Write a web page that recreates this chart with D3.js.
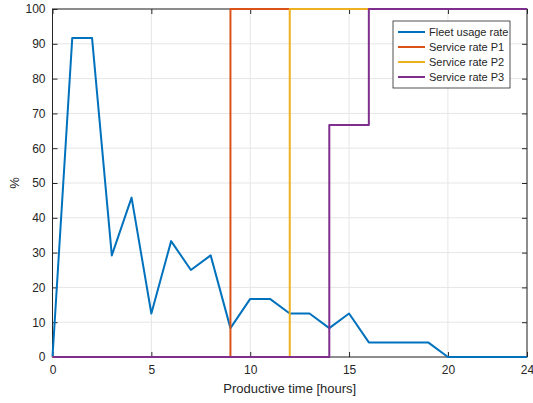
<!DOCTYPE html>
<html>
<head>
<meta charset="utf-8">
<script src="https://cdn.jsdelivr.net/npm/d3@7"></script>
<style>
body { margin: 0; background: #fff; }
text { font-family: "Liberation Sans", Arial, sans-serif; fill: #262626; }
</style>
</head>
<body>
<svg width="533" height="403"></svg>
<script>
const hours = d3.range(0, 25);
const fleetUsage = [0, 91.7, 91.7, 29.2, 45.8, 12.5, 33.3, 25, 29.2, 8.3, 16.7, 16.7, 12.5, 12.5, 8.3, 12.5, 4.2, 4.2, 4.2, 4.2, 0, 0, 0, 0, 0];
const serviceP1 = [0, 0, 0, 0, 0, 0, 0, 0, 0, 100, 100, 100, 100, 100, 100, 100, 100, 100, 100, 100, 100, 100, 100, 100, 100];
const serviceP2 = [0, 0, 0, 0, 0, 0, 0, 0, 0, 0, 0, 0, 100, 100, 100, 100, 100, 100, 100, 100, 100, 100, 100, 100, 100];
const serviceP3 = [0, 0, 0, 0, 0, 0, 0, 0, 0, 0, 0, 0, 0, 0, 66.7, 66.7, 100, 100, 100, 100, 100, 100, 100, 100, 100];
const seriesNames = ["Fleet usage rate", "Service rate P1", "Service rate P2", "Service rate P3"];
const colors = ["#0072BD", "#D95319", "#EDB120", "#7E2F8E"];
const xTicks = [0, 5, 10, 15, 20, 24];
const yTicks = d3.range(0, 101, 10);

const svg = d3.select("svg");
const m = { left: 52.5, right: 527, top: 9, bottom: 357 };

const x = d3.scaleLinear().domain([0, 24]).range([m.left, m.right]);
const y = d3.scaleLinear().domain([0, 100]).range([m.bottom, m.top]);

// grid
svg.append("g")
	.selectAll("line")
	.data(xTicks)
	.enter()
	.append("line")
	.attr("x1", (d) => x(d)).attr("x2", (d) => x(d))
	.attr("y1", m.top).attr("y2", m.bottom)
	.attr("stroke", "#e6e6e6");
svg.append("g")
	.selectAll("line")
	.data(yTicks)
	.enter()
	.append("line")
	.attr("x1", m.left).attr("x2", m.right)
	.attr("y1", (d) => y(d)).attr("y2", (d) => y(d))
	.attr("stroke", "#e6e6e6");

// axes (ticks inside)
const axisStyle = (g) => {
	g.select(".domain").remove();
	g.selectAll("line").attr("stroke", "#262626");
	g.selectAll("text").style("font-size", "12px").attr("fill", "#262626");
};
svg.append("g")
	.attr("transform", `translate(0,${m.bottom})`)
	.call(d3.axisBottom(x).tickValues(xTicks).tickSizeInner(-5).tickPadding(8))
	.call(axisStyle);
svg.append("g")
	.attr("transform", `translate(0,${m.top})`)
	.call(d3.axisTop(x).tickValues(xTicks).tickSizeInner(-5).tickFormat(""))
	.call(axisStyle);
svg.append("g")
	.attr("transform", `translate(${m.left},0)`)
	.call(d3.axisLeft(y).tickValues(yTicks).tickSizeInner(-5).tickPadding(7))
	.call(axisStyle);
svg.append("g")
	.attr("transform", `translate(${m.right},0)`)
	.call(d3.axisRight(y).tickValues(yTicks).tickSizeInner(-5).tickFormat(""))
	.call(axisStyle);

svg.append("rect")
	.attr("x", m.left).attr("y", m.top)
	.attr("width", m.right - m.left).attr("height", m.bottom - m.top)
	.attr("fill", "none")
	.attr("stroke", "#262626")
	.attr("stroke-width", 1);

// lines
const lineSmooth = d3.line().x((d, i) => x(hours[i])).y((d) => y(d));
const lineStep = d3.line().x((d, i) => x(hours[i])).y((d) => y(d)).curve(d3.curveStepAfter);

const allSeries = [fleetUsage, serviceP1, serviceP2, serviceP3];
allSeries.forEach((s, i) => {
	svg.append("path")
		.datum(s)
		.attr("d", i === 0 ? lineSmooth : lineStep)
		.attr("fill", "none")
		.attr("stroke", colors[i])
		.attr("stroke-width", 2)
		.attr("stroke-linejoin", "round");
});

// legend
const legend = svg.append("g").attr("transform", "translate(393,21)");
legend.append("rect")
	.attr("width", 117).attr("height", 67)
	.attr("fill", "#fff")
	.attr("stroke", "#262626")
	.attr("stroke-width", 0.8);
const items = legend.selectAll("g.item")
	.data(seriesNames)
	.enter()
	.append("g")
	.attr("class", "item")
	.attr("transform", (_, i) => `translate(0,${11 + i * 15})`);
items.append("line")
	.attr("x1", 5).attr("x2", 32)
	.attr("stroke", (_, i) => colors[i])
	.attr("stroke-width", 2);
items.append("text")
	.attr("x", 36)
	.attr("y", 4)
	.style("font-size", "11px")
	.text((d) => d);

// labels
svg.append("text")
	.attr("x", (m.left + m.right) / 2)
	.attr("y", 393)
	.attr("text-anchor", "middle")
	.style("font-size", "13px")
	.text("Productive time [hours]");
svg.append("text")
	.attr("transform", `translate(19,${(m.top + m.bottom) / 2}) rotate(-90)`)
	.attr("text-anchor", "middle")
	.style("font-size", "13px")
	.text("%");
</script>
</body>
</html>
